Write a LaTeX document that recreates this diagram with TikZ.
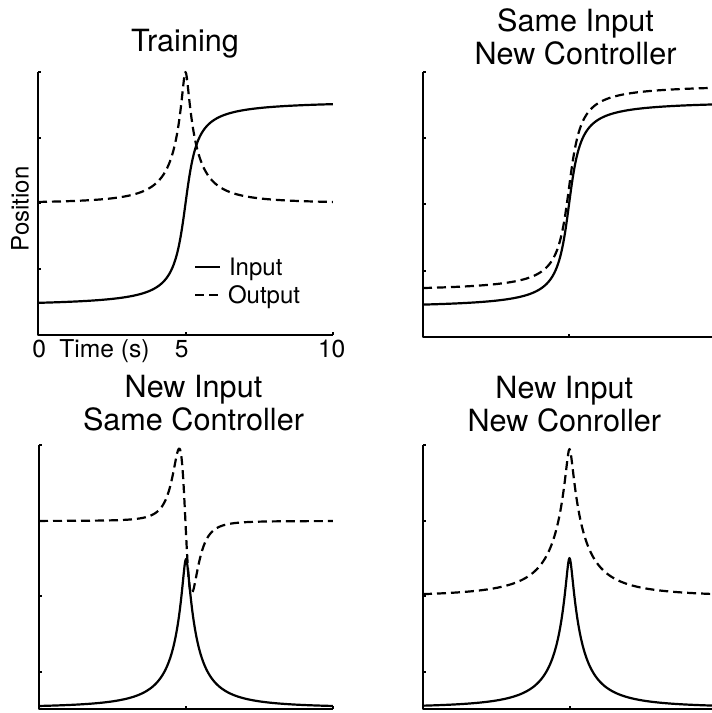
\documentclass[tikz,border=0pt]{standalone}
\usepackage{fontspec}
\setmainfont{TeX Gyre Heros}
\usetikzlibrary{positioning}

\begin{document}
\begin{tikzpicture}[
  x=0.5pt, y=0.5pt,
  line width=1pt, line join=round,
  axisline/.style={line width=1pt},
  incurve/.style={line width=1.1pt},
  outcurve/.style={line width=1.1pt, dash pattern=on 4.5pt off 2.5pt},
  titletext/.style={font=\fontsize{15.3}{16.8}\selectfont, align=center, anchor=base, inner sep=0pt},
  ticklabel/.style={font=\fontsize{12.3}{14}\selectfont, anchor=base, inner sep=0pt},
  legendtext/.style={font=\fontsize{12}{14}\selectfont, anchor=base west, inner sep=0pt},
  declare function={pk(\d,\w)=1/(1+(sqrt(\d*\d+0.005)-0.0707)/\w)^2;}
]
  \useasboundingbox (0,0) rectangle (712,713);

  % Panel 1: entrenamiento
  \node[titletext] (ttrain) at (185,661.3) {Training};
  \begin{scope}[xshift=19pt, yshift=189pt, x=14.75pt, y=32.875pt]
    \draw[axisline] (0,4) -- (0,0) -- (10,0);
    \foreach \v in {1,...,4} \draw[axisline] (0,\v) -- ++(1.5pt,0);
    \foreach \t in {5,10} \draw[axisline] (\t,0) -- ++(0,1.5pt);
    \draw[incurve] plot[domain=0:10, samples=401] (\x, {2+rad(atan((\x-5)/0.3))});
    \draw[outcurve] plot[domain=0:10, samples=401] (\x, {2+2*pk(\x-5,0.6)});
  \end{scope}
  \node[font=\fontsize{12}{14}\selectfont, rotate=90, anchor=base, inner sep=0pt] (ylab) at (28.5,504) {Position};
  \node[ticklabel] (t0) at (39.3,355.3) {0};
  \node[ticklabel] (tlab) at (104.5,355.3) {Time (s)};
  \node[ticklabel] (t5) at (181.7,355.3) {5};
  \node[ticklabel] (t10) at (331.7,355.3) {10};

  % Leyenda
  \node[legendtext] (inlab) at (228,437) {Input};
  \node[legendtext] (outlab) at (227,409) {Output};
  \draw[incurve] ([shift={(-16.5pt,4.6pt)}]inlab.base west) -- ++(12.5pt,0);
  \draw[outcurve] ([shift={(-16pt,4.5pt)}]outlab.base west) -- ++(12.5pt,0);

  % Panel 2: misma entrada, nuevo controlador
  \node[titletext] (tsame) at (575.5,648) {Same Input\\New Controller};
  \begin{scope}[xshift=211.5pt, yshift=188pt, x=14.6pt, y=33.125pt]
    \draw[axisline] (0,4) -- (0,0) -- (9.9,0);
    \foreach \v in {1,...,4} \draw[axisline] (0,\v) -- ++(1.5pt,0);
    \draw[axisline] (5,0) -- ++(0,1.5pt);
    \draw[incurve] plot[domain=0:9.9, samples=397] (\x, {2+rad(atan((\x-5)/0.3))});
    \draw[outcurve] plot[domain=0:9.9, samples=397] (\x, {2.25+rad(atan((\x-5)/0.3))});
  \end{scope}

  % Panel 3: nueva entrada, mismo controlador
  \node[titletext] (tnewsame) at (193.5,282.3) {New Input\\Same Controller};
  \begin{scope}[xshift=19.5pt, yshift=2pt, x=14.7pt, y=0.5pt]
    \draw[axisline] (0,264) -- (0,0) -- (10,0);
    \foreach \v in {37,113,188,264} \draw[axisline] (0,\v) -- ++(1.5pt,0);
    \foreach \t in {5,10} \draw[axisline] (\t,0) -- ++(0,1.5pt);
    \draw[incurve] plot[domain=0:10, samples=401] (\x, {1+149*pk(\x-5,0.65)});
    \draw[outcurve] plot[domain=0:10, samples=401] (\x, {188-10.77*(\x-4.98)/((0.1325+(\x-4.98)*(\x-4.98))*(0.1325+(\x-4.98)*(\x-4.98)))});
  \end{scope}

  % Panel 4: nueva entrada, nuevo controlador
  \node[titletext] (tnewnew) at (564.3,281.3) {New Input\\New Conroller};
  \begin{scope}[xshift=211.5pt, yshift=2pt, x=14.65pt, y=0.5pt]
    \draw[axisline] (0,264) -- (0,0) -- (9.9,0);
    \foreach \v in {37,113,188,264} \draw[axisline] (0,\v) -- ++(1.5pt,0);
    \draw[axisline] (5,0) -- ++(0,1.5pt);
    \draw[incurve] plot[domain=0:9.9, samples=397] (\x, {1+150*pk(\x-5,0.7)});
    \draw[outcurve] plot[domain=0:9.9, samples=397] (\x, {112+148*pk(\x-5,0.8)});
  \end{scope}

\end{tikzpicture}
\end{document}
